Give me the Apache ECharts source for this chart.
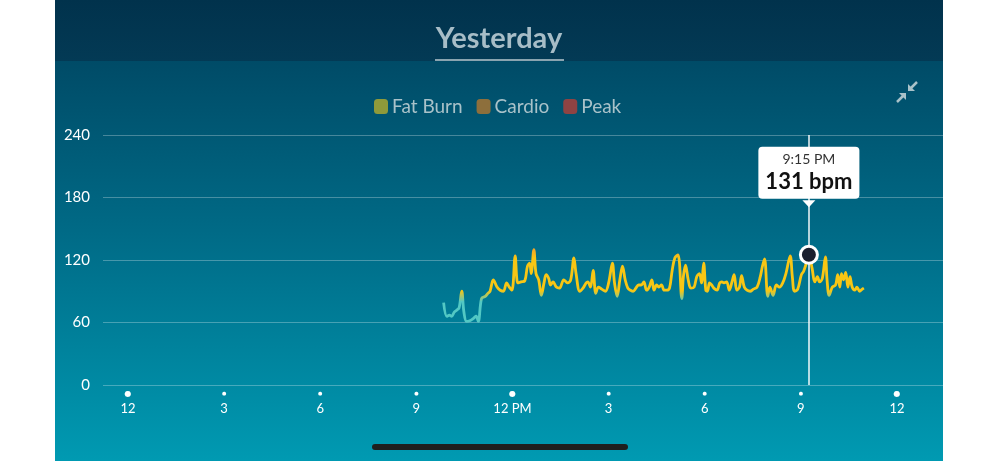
<!DOCTYPE html>
<html>
<head>
<meta charset="utf-8">
<style>
  html, body { margin: 0; padding: 0; background: #fff; }
  #chart { width: 998px; height: 461px; }
</style>
<script src="https://cdn.jsdelivr.net/npm/echarts/dist/echarts.min.js"></script>
</head>
<body>
<div id="chart"></div>
<script>
// ---- data (minutes since midnight, bpm) ----
const minutes = [591,597,602,606,611,616,620,625,629,634,641,647,652,656,662,669,674,678,684,691,697,703,709,714,719,725,730,736,743,748,752,755,760,764,769,774,779,783,788,791,796,802,808,816,823,829,835,839,846,852,858,861,866,871,876,881,887,894,900,907,911,916,921,926,931,936,941,946,951,956,961,966,971,976,981,985,990,994,999,1004,1009,1014,1019,1024,1030,1037,1040,1044,1049,1054,1060,1065,1070,1074,1078,1082,1085,1089,1093,1097,1103,1108,1112,1116,1121,1126,1131,1135,1140,1145,1149,1154,1159,1165,1171,1178,1184,1188,1192,1198,1202,1208,1214,1220,1226,1232,1240,1244,1248,1254,1261,1265,1269,1275,1281,1286,1291,1295,1300,1306,1309,1313,1319,1325,1329,1333,1336,1340,1344,1348,1352,1356,1361,1365,1370,1375,1378];
const bpm = [79,66,67,66,70,72,74,90,70,61,62,64,66,61,83,85,88,90,101,94,91,90,98,94,91,124,98,99,100,114,117,107,130,107,101,86,98,106,102,96,99,94,93,101,98,101,122,107,90,93,98,99,94,110,88,94,92,90,98,117,98,85,101,114,101,93,91,90,93,96,96,99,91,94,101,91,96,94,96,91,91,93,110,122,125,83,104,115,101,93,94,104,107,98,117,91,90,98,96,93,91,98,99,98,99,91,99,106,91,94,105,94,91,90,92,94,104,114,121,85,94,86,96,94,98,107,124,104,90,92,106,109,115,124,112,99,104,99,102,123,101,86,94,96,106,94,107,101,108,94,104,94,91,94,90,92,93];
const xTicks = [0,180,360,540,720,900,1080,1260,1440];
const xTickLabels = ['12','3','6','9','12 PM','3','6','9','12'];
const yTicks = [0,60,120,180,240];
const zones = ['Fat Burn','Cardio','Peak'];
const zoneColors = ['#8f9a3a','#8d6f3c','#8f4343'];
const selectedMinute = 1275;
const selectedBpm = 125;
const tipTime = '9:15 PM';
const tipValue = '131 bpm';
const titleText = 'Yesterday';

const lineData = minutes.map((m, i) => [m, bpm[i]]);

const chart = echarts.init(document.getElementById('chart'), null, { renderer: 'canvas' });

const FONT = 'Lato, "Open Sans", sans-serif';

const option = {
  animation: false,
  backgroundColor: '#ffffff',
  title: {
    text: titleText,
    left: 'center',
    top: 19,
    textStyle: { color: '#a7bdc7', fontSize: 29, fontWeight: 'bold', fontFamily: FONT }
  },
  legend: {
    left: 369,
    top: 92,
    itemWidth: 14,
    itemHeight: 15,
    itemGap: 14,
    icon: 'roundRect',
    textStyle: { color: '#a9c2c9', fontSize: 19, fontFamily: FONT, padding: [0, 0, 0, -1] },
    data: zones
  },
  graphic: {
    elements: [
      { type: 'rect', z: -10, shape: { x: 55, y: 0, width: 888, height: 461 },
        style: { fill: new echarts.graphic.LinearGradient(0, 0, 0, 1, [
          { offset: 0, color: '#00405c' }, { offset: 0.5, color: '#006a86' }, { offset: 1, color: '#009ab2' }]) } },
      { type: 'rect', z: -9, shape: { x: 55, y: 0, width: 888, height: 61 },
        style: { fill: new echarts.graphic.LinearGradient(0, 0, 0, 1, [
          { offset: 0, color: '#01324c' }, { offset: 1, color: '#033a55' }]) } },
      { type: 'rect', z: 10, shape: { x: 435, y: 59, width: 129, height: 2 }, style: { fill: '#8aa4b0' } },
      { type: 'rect', z: 10, shape: { x: 372, y: 444, width: 256, height: 6, r: 3 }, style: { fill: '#1f1f1f' } },
      { type: 'line', z: 10, shape: { x1: 917, y1: 82, x2: 911, y2: 88 }, style: { stroke: '#a9c2c9', lineWidth: 2.5 } },
      { type: 'polygon', z: 10, shape: { points: [[908, 91], [908, 84], [915, 91]] }, style: { fill: '#a9c2c9' } },
      { type: 'line', z: 10, shape: { x1: 897, y1: 102, x2: 903, y2: 96 }, style: { stroke: '#a9c2c9', lineWidth: 2.5 } },
      { type: 'polygon', z: 10, shape: { points: [[906, 93], [906, 100], [899, 93]] }, style: { fill: '#a9c2c9' } }
    ]
  },
  grid: [
    { left: 103, right: 55, top: 135, bottom: 76 },
    { left: 128, right: 101, top: 135, bottom: 76 }
  ],
  xAxis: [
    { gridIndex: 0, type: 'value', min: 0, max: 1, show: false },
    { gridIndex: 1, type: 'value', min: 0, max: 1440, interval: 180,
      axisLine: { show: false }, axisTick: { show: false }, splitLine: { show: false },
      axisLabel: {
        margin: 2,
        formatter: function (v) {
          const i = xTicks.indexOf(v);
          if (i < 0) return '';
          const dot = (v % 720 === 0) ? '{b|●}' : '{s|●}';
          return dot + '\n{l|' + xTickLabels[i] + '}';
        },
        rich: {
          b: { fontSize: 8, lineHeight: 14, color: '#ffffff', fontFamily: 'DejaVu Sans' },
          s: { fontSize: 5, lineHeight: 14, color: '#ffffff', fontFamily: 'DejaVu Sans' },
          l: { fontSize: 13, lineHeight: 16, color: '#ffffff', fontFamily: FONT }
        }
      }
    }
  ],
  yAxis: [
    { gridIndex: 0, type: 'value', min: yTicks[0], max: yTicks[yTicks.length - 1], interval: 60,
      axisLine: { show: false }, axisTick: { show: false },
      axisLabel: { color: '#ffffff', fontSize: 15, margin: 13, fontFamily: FONT },
      splitLine: { lineStyle: { color: 'rgba(255,255,255,0.28)', width: 1 } } },
    { gridIndex: 1, type: 'value', min: yTicks[0], max: yTicks[yTicks.length - 1], interval: 60, show: false,
      splitLine: { show: false } }
  ],
  visualMap: {
    show: false,
    type: 'continuous',
    seriesIndex: 3,
    dimension: 1,
    min: 80,
    max: 132,
    inRange: { color: ['#52c8c4', '#f8c614', '#f8c614', '#f8c614', '#f8c614', '#f29f2a'] }
  },
  series: [
    { name: zones[0], type: 'line', xAxisIndex: 1, yAxisIndex: 1, data: [], itemStyle: { color: zoneColors[0] } },
    { name: zones[1], type: 'line', xAxisIndex: 1, yAxisIndex: 1, data: [], itemStyle: { color: zoneColors[1] } },
    { name: zones[2], type: 'line', xAxisIndex: 1, yAxisIndex: 1, data: [], itemStyle: { color: zoneColors[2] } },
    {
      name: 'Heart rate', type: 'line', xAxisIndex: 1, yAxisIndex: 1,
      data: lineData, smooth: 0.35, showSymbol: false, symbol: 'none',
      lineStyle: { width: 2.8 },
      z: 3,
      markLine: {
        silent: true, symbol: 'none', animation: false,
        label: { show: false },
        lineStyle: { color: '#ffffff', width: 1.5, type: 'solid', opacity: 0.95 },
        data: [{ xAxis: selectedMinute }]
      }
    },
    {
      name: 'pointer', type: 'scatter', xAxisIndex: 1, yAxisIndex: 1, z: 6,
      data: [[selectedMinute, selectedBpm]],
      symbol: 'triangle', symbolRotate: 180, symbolSize: [13, 7], symbolOffset: [0, -51],
      itemStyle: { color: '#ffffff', opacity: 1 }, silent: true
    },
    {
      name: 'selected', type: 'scatter', xAxisIndex: 1, yAxisIndex: 1, z: 7,
      data: [[selectedMinute, selectedBpm]],
      symbol: 'circle', symbolSize: 17,
      itemStyle: { color: '#1b1f2e', borderColor: '#ffffff', borderWidth: 3, opacity: 1 },
      label: {
        show: true, position: 'top', distance: 46, opacity: 1,
        formatter: '{t|' + tipTime + '}\n{v|' + tipValue + '}',
        backgroundColor: '#ffffff', borderRadius: 4, padding: [3, 7, 4, 7],
        align: 'center',
        rich: {
          t: { fontSize: 14, lineHeight: 19, color: '#333333', fontFamily: FONT, align: 'center' },
          v: { fontSize: 22, lineHeight: 26, color: '#111111', fontWeight: 'bold', fontFamily: FONT, align: 'center' }
        }
      },
      silent: true
    }
  ]
};

chart.setOption(option);
</script>
</body>
</html>
